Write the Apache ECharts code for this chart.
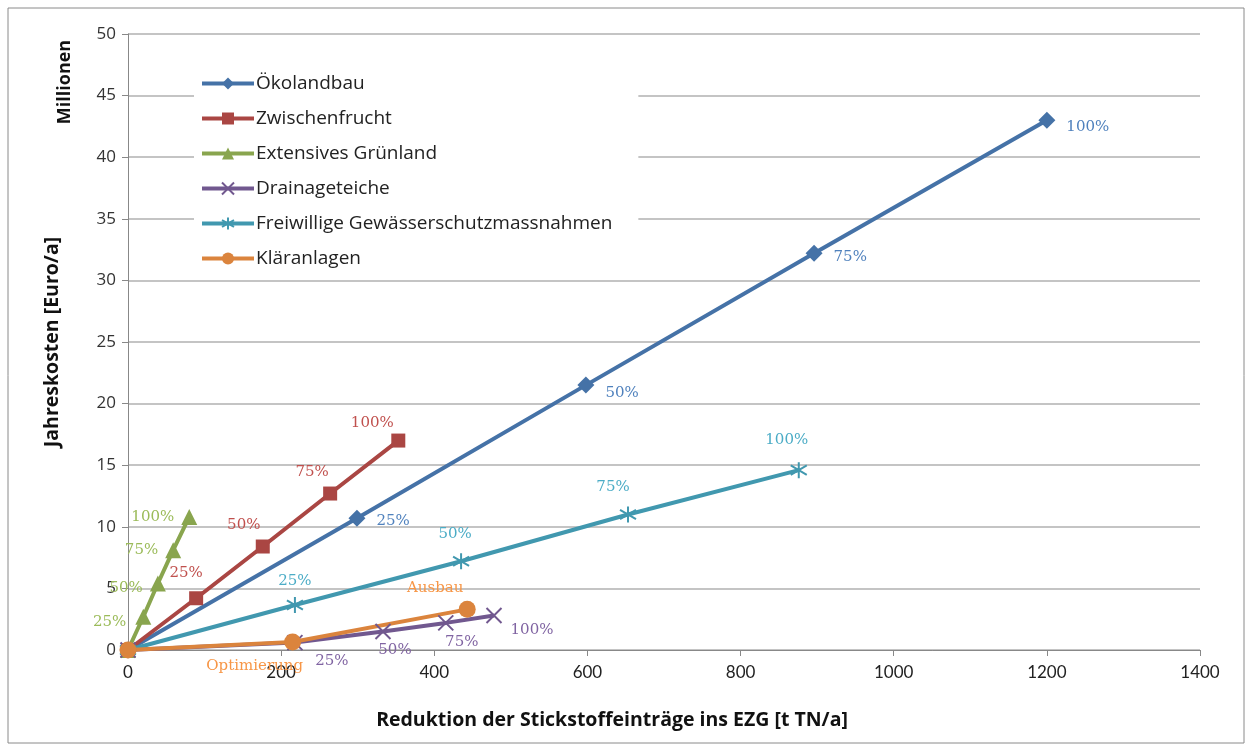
<!DOCTYPE html>
<html>
<head>
<meta charset="utf-8">
<script src="https://cdn.jsdelivr.net/npm/echarts@6/dist/echarts.min.js"></script>
<style>
  html, body { margin: 0; padding: 0; background: #fff; }
</style>
</head>
<body>
<div id="chart" style="width: 1250px; height: 749px"></div>
<script>
// Reduktion [t TN/a] und Jahreskosten [Mio. Euro/a]
const oekoX = [0, 299, 598, 896, 1200]
const oekoY = [0, 10.7, 21.5, 32.2, 43.0]
const zwischenX = [0, 89, 176, 264, 353]
const zwischenY = [0, 4.2, 8.4, 12.7, 17.0]
const gruenX = [0, 20, 39, 59, 80]
const gruenY = [0, 2.7, 5.4, 8.1, 10.8]
const drainX = [0, 218, 333, 415, 478]
const drainY = [0, 0.6, 1.5, 2.2, 2.8]
const freiX = [0, 218, 435, 653, 876]
const freiY = [0, 3.65, 7.2, 11.0, 14.6]
const klaerX = [0, 215, 443]
const klaerY = [0, 0.65, 3.3]

const stufen = ['', '25%', '50%', '75%', '100%']
const klaerStufen = ['', 'Optimierung', 'Ausbau']

const xTicks = [0, 200, 400, 600, 800, 1000, 1200, 1400]
const yTicks = [0, 5, 10, 15, 20, 25, 30, 35, 40, 45, 50]

const chart = echarts.init(document.getElementById('chart'))

const asterisk = 'path://M5,0L5,10M0,2.1L10,7.9M10,2.1L0,7.9'
const cross = 'path://M0,0L10,10M10,0L0,10'

// baut die Punkte mit Beschriftung, offsets nur fürs Layout
function punkte(xs, ys, texte, labelColor, pos, offsets) {
  return xs.map((x, i) => ({
    value: [x, ys[i]],
    label: {
      show: texte[i] !== '',
      formatter: texte[i],
      position: Array.isArray(pos) ? pos[i] : pos,
      offset: offsets[i],
      color: labelColor,
      fontFamily: 'DejaVu Serif',
      fontSize: 15
    }
  }))
}

function reihe(name, color, symbol, size, data, stroke) {
  return {
    name: name,
    type: 'line',
    symbol: symbol,
    symbolSize: size,
    showAllSymbol: true,
    data: data,
    lineStyle: { color: color, width: 4 },
    itemStyle: stroke
      ? { color: color, borderColor: color, borderWidth: 2 }
      : { color: color },
    emphasis: { disabled: true }
  }
}

const option = {
  animation: false,
  grid: { left: 128, right: 50, top: 34, bottom: 99 },
  legend: {
    orient: 'vertical',
    left: 194,
    top: 68,
    itemGap: 16,
    itemWidth: 52,
    itemHeight: 15,
    backgroundColor: '#fff',
    padding: [6, 26, 6, 6],
    lineStyle: { width: 4 },
    textStyle: { fontFamily: 'Open Sans', fontSize: 19, color: '#222', padding: [0, 0, 0, -3] },
    data: ['Ökolandbau', 'Zwischenfrucht', 'Extensives Grünland', 'Drainageteiche',
      'Freiwillige Gewässerschutzmassnahmen', 'Kläranlagen']
  },
  xAxis: {
    type: 'value',
    min: xTicks[0],
    max: xTicks[xTicks.length - 1],
    interval: 200,
    axisLine: { show: true, lineStyle: { color: '#888', width: 1 } },
    axisTick: { show: true, length: 6, lineStyle: { color: '#888' } },
    splitLine: { show: false },
    axisLabel: {
      color: '#222', fontFamily: 'Lato', fontSize: 17, margin: 14,
      formatter: (v) => String(v)
    }
  },
  yAxis: {
    type: 'value',
    min: yTicks[0],
    max: yTicks[yTicks.length - 1],
    interval: 5,
    name: 'Jahreskosten [Euro/a]',
    nameLocation: 'middle',
    nameGap: 66,
    nameTextStyle: { fontFamily: 'Open Sans', fontSize: 19.5, fontWeight: 'bold', color: '#111' },
    axisLine: { show: true, lineStyle: { color: '#888', width: 1 } },
    axisTick: { show: true, length: 6, lineStyle: { color: '#888' } },
    splitLine: { show: true, lineStyle: { color: '#b0b0b0', width: 1.5 } },
    axisLabel: { color: '#333', fontFamily: 'Open Sans', fontSize: 17, margin: 12 }
  },
  graphic: [
    {
      type: 'rect',
      z: -10,
      shape: { x: 8, y: 8, width: 1236, height: 735 },
      style: { fill: 'none', stroke: '#8a8a8a', lineWidth: 1 }
    },
    {
      type: 'text',
      x: 65,
      y: 82,
      rotation: Math.PI / 2,
      style: {
        text: 'Millionen',
        fontFamily: 'Open Sans',
        fontSize: 18,
        fontWeight: 'bold',
        fill: '#111',
        align: 'center',
        verticalAlign: 'middle'
      }
    },
    {
      type: 'text',
      x: 612,
      y: 720,
      style: {
        text: 'Reduktion der Stickstoffeinträge ins EZG [t TN/a]',
        fontFamily: 'Open Sans',
        fontSize: 19.5,
        fontWeight: 'bold',
        fill: '#111',
        align: 'center',
        verticalAlign: 'middle'
      }
    }
  ],
  series: [
    reihe('Ökolandbau', '#4572A7', 'diamond', 17,
      punkte(oekoX, oekoY, stufen, '#4F81BD', 'right',
        [[0, 0], [6, 3], [6, 8], [6, 4], [6, 7]])),
    reihe('Zwischenfrucht', '#AA4643', 'rect', 14,
      punkte(zwischenX, zwischenY, stufen, '#C0504D', 'top',
        [[0, 0], [-10, -6], [-19, -2], [-18, -2], [-26, 2]])),
    reihe('Extensives Grünland', '#89A54E', 'triangle', 16,
      punkte(gruenX, gruenY, stufen, '#9BBB59', 'left',
        [[0, 0], [-4, 5], [-2, 5], [-2, 0], [-2, 0]])),
    reihe('Drainageteiche', '#71588F', cross, 15,
      punkte(drainX, drainY, stufen, '#8064A2', 'bottom',
        [[0, 0], [37, -2], [12, -2], [16, -2], [38, -6]]), true),
    reihe('Freiwillige Gewässerschutzmassnahmen', '#4198AF', asterisk, 16,
      punkte(freiX, freiY, stufen, '#4BACC6', 'top',
        [[0, 0], [0, -2], [-6, -6], [-15, -6], [-12, -9]]), true),
    reihe('Kläranlagen', '#DB843D', 'circle', 17,
      punkte(klaerX, klaerY, klaerStufen, '#F79646', ['top', 'bottom', 'top'],
        [[0, 0], [-38, 3], [-32, 0]]))
  ]
}

chart.setOption(option)
</script>
</body>
</html>
